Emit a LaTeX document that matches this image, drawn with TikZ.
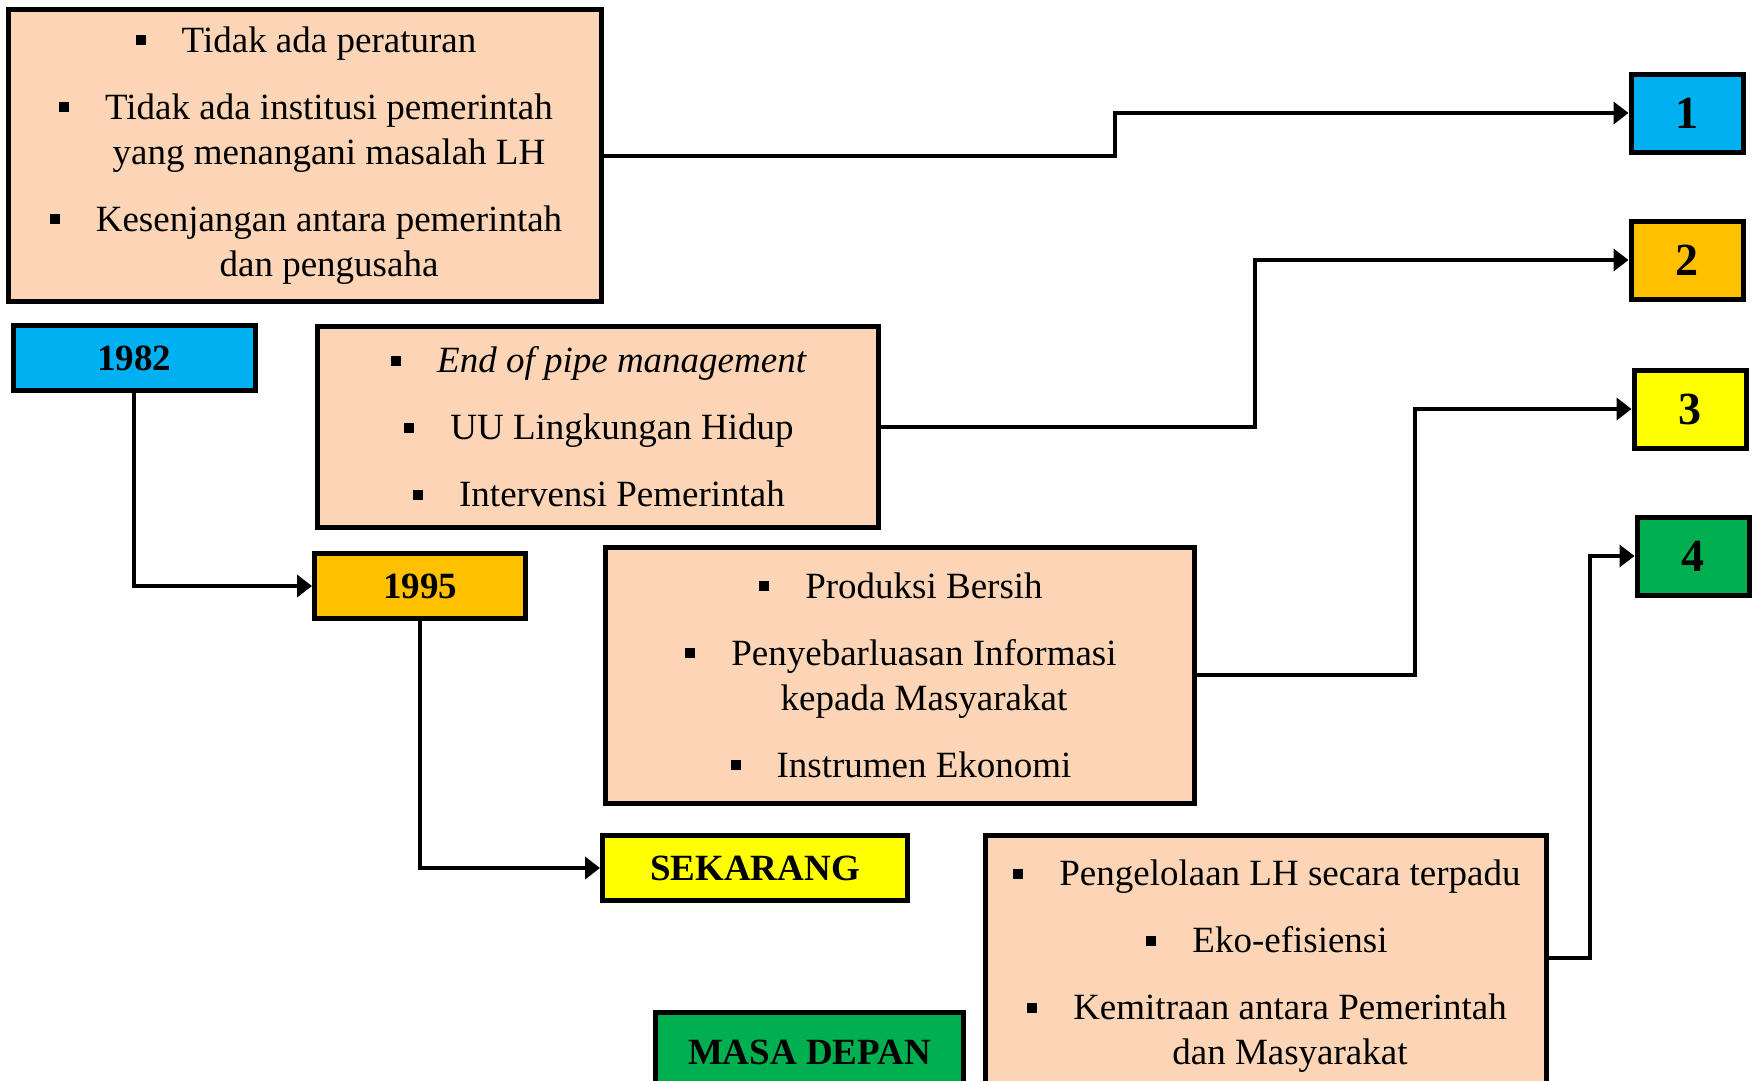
\documentclass[tikz,border=0pt]{standalone}
\usepackage{fontspec}
\setmainfont{Liberation Serif}
\usepackage{tikz}
\usetikzlibrary{
  arrows.meta,
  positioning
}
\definecolor{PeachFill}{RGB}{251,213,181}
\definecolor{SkyBlue}{RGB}{0,176,240}
\definecolor{AmberGold}{RGB}{255,192,0}
\definecolor{BrightYellow}{RGB}{255,255,0}
\definecolor{LeafGreen}{RGB}{0,176,80}
\newcommand{\kotak}{\rule[7pt]{10pt}{10pt}}
\newcommand{\butir}{\hspace*{48pt}\llap{\kotak\hspace{36pt}}}
\newcommand{\lanjut}{\hspace*{48pt}}
\tikzset{
  isibox/.style={draw=black,line width=5pt,fill=PeachFill,inner sep=0pt,align=center,font=\fontsize{37}{45}\selectfont},
  tahunbox/.style={draw=black,line width=5pt,inner sep=0pt,minimum height=65pt,font=\fontsize{37}{40}\selectfont\bfseries},
  nomorbox/.style={draw=black,line width=5pt,inner sep=0pt,minimum width=112pt,minimum height=78pt,font=\fontsize{46}{48}\selectfont\bfseries},
  alur/.style={-{Triangle[length=15pt,width=22pt]},line width=4pt,draw=black}
}

\begin{document}
\begin{tikzpicture}[x=1pt,y=-1pt]
\clip (0,0) rectangle (1754,1080);
\fill[white] (0,0) rectangle (1754,1080);

% kotak isi tiap periode
\node[isibox, minimum width=593pt, minimum height=292pt] (awal) at (305,155.5) {%
\butir Tidak ada peraturan\\[22pt]
\butir Tidak ada institusi pemerintah\\
\lanjut yang menangani masalah LH\\[22pt]
\butir Kesenjangan antara pemerintah\\
\lanjut dan pengusaha};
\node[isibox, minimum width=561pt, minimum height=201pt] (kedua) at (598,427) {%
\butir\textit{End of pipe management}\\[22pt]
\butir UU Lingkungan Hidup\\[22pt]
\butir Intervensi Pemerintah};
\node[isibox, minimum width=589pt, minimum height=256pt] (ketiga) at (900,675) {%
\butir Produksi Bersih\\[22pt]
\butir Penyebarluasan Informasi\\
\lanjut kepada Masyarakat\\[22pt]
\butir Instrumen Ekonomi};
\node[isibox, minimum width=561pt, minimum height=262pt] (keempat) at (1266,966.5) {%
\butir Pengelolaan LH secara terpadu\\[22pt]
\butir Eko-efisiensi\\[22pt]
\butir Kemitraan antara Pemerintah\\
\lanjut dan Masyarakat};

% tahun
\node[tahunbox, fill=SkyBlue, minimum width=242pt] (th82) at (134,358) {1982};
\node[tahunbox, fill=AmberGold, minimum width=211pt] (th95) at (420,586) {1995};
\node[tahunbox, fill=BrightYellow, minimum width=305pt] (sekarang) at (755,868) {SEKARANG};
\node[tahunbox, fill=LeafGreen, minimum width=308pt, minimum height=80pt] (depan) at (809.5,1052) {MASA DEPAN};

% nomor
\node[nomorbox, fill=SkyBlue] (n1) at (1687,113) {1};
\node[nomorbox, fill=AmberGold] (n2) at (1687,260) {2};
\node[nomorbox, fill=BrightYellow] (n3) at (1690,409) {3};
\node[nomorbox, fill=LeafGreen] (n4) at (1693,556) {4};

\draw[alur] (th82.south) |- (th95.west);
\draw[alur] (th95.south) |- (sekarang.west);
\draw[alur] (awal.east) -- ++(511,0) |- (n1.west);
\draw[alur] (kedua.east) -- ++(374,0) |- (n2.west);
\draw[alur] (ketiga.east) -- ++(218,0) |- (n3.west);
\draw[alur] ([yshift=9pt]keempat.east) -- ++(41,0) |- (n4.west);
\end{tikzpicture}
\end{document}
